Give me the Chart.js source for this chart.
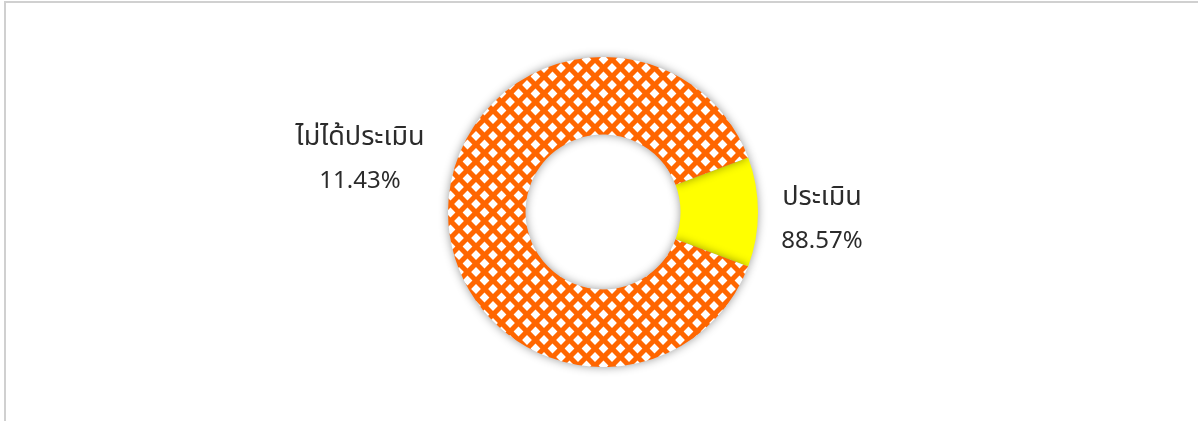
<!DOCTYPE html>
<html>
<head>
<meta charset="utf-8">
<script src="https://cdn.jsdelivr.net/npm/chart.js@4/dist/chart.umd.min.js"></script>
<style>
    html, body { margin: 0; padding: 0; background: #fff; }
    #marco {
        position: absolute; left: 4px; top: 1px; width: 1194px; height: 420px;
        border-top: 2px solid #d0d0d0; border-left: 2px solid #d0d0d0;
    }
    #grafico { position: absolute; left: 0; top: 0; }
</style>
</head>
<body>
<div id="marco"></div>
<canvas id="grafico" width="1198" height="421"></canvas>
<script>
// datos
const categorias = ['ประเมิน', 'ไม่ได้ประเมิน'];
const valores = [11.43, 88.57];
const textosPorcentaje = ['88.57%', '11.43%'];   // tal como aparecen en la imagen

const amarillo = '#FFFF00';
const naranja = '#FF6600';

// patron de rombos blancos sobre naranja
function crearPatron() {
    const t = 17;
    const c = document.createElement('canvas');
    c.width = t; c.height = t;
    const g = c.getContext('2d');
    g.fillStyle = naranja;
    g.fillRect(0, 0, t, t);
    g.fillStyle = '#fff';
    const centros = [[t / 2, t / 2], [0, 0], [t, 0], [0, t], [t, t]];
    const r = 4.9;
    centros.forEach(function (p) {
        g.beginPath();
        g.moveTo(p[0], p[1] - r);
        g.lineTo(p[0] + r, p[1]);
        g.lineTo(p[0], p[1] + r);
        g.lineTo(p[0] - r, p[1]);
        g.closePath();
        g.fill();
    });
    return document.getElementById('grafico').getContext('2d').createPattern(c, 'repeat');
}

// desplazamiento de cada etiqueta respecto al borde exterior
const distanciaEtiqueta = [64, 88];
const ajusteY = [7, -53];

const sombra = {
    id: 'sombra',
    beforeDatasetsDraw: function (chart) {
        const ctx = chart.ctx;
        ctx.save();
        ctx.shadowColor = 'rgba(0,0,0,0.4)';
        ctx.shadowBlur = 10;
        ctx.shadowOffsetX = 0;
        ctx.shadowOffsetY = 0;
    },
    afterDatasetsDraw: function (chart) {
        chart.ctx.restore();
    }
};

const etiquetas = {
    id: 'etiquetas',
    afterDraw: function (chart) {
        const ctx = chart.ctx;
        const meta = chart.getDatasetMeta(0);
        ctx.save();
        ctx.fillStyle = '#2b2b2b';
        ctx.textAlign = 'center';
        ctx.textBaseline = 'middle';
        meta.data.forEach(function (arco, i) {
            const p = arco.getProps(['x', 'y', 'startAngle', 'endAngle', 'outerRadius'], true);
            const medio = (p.startAngle + p.endAngle) / 2;
            const d = p.outerRadius + distanciaEtiqueta[i];
            const x = p.x + Math.cos(medio) * d;
            const y = p.y + Math.sin(medio) * d + ajusteY[i];
            ctx.font = '27px "Noto Sans Thai", Tahoma, sans-serif';
            ctx.fillText(categorias[i], x, y - 19);
            ctx.font = '24px "Noto Sans", sans-serif';
            ctx.fillText(textosPorcentaje[i], x, y + 22);
        });
        ctx.restore();
    }
};

const ctx = document.getElementById('grafico').getContext('2d');
const miGrafico = new Chart(ctx, {
    type: 'doughnut',
    data: {
        labels: categorias,
        datasets: [{
            data: valores,
            backgroundColor: [amarillo, crearPatron()],
            borderWidth: 0
        }]
    },
    options: {
        responsive: false,
        animation: false,
        cutout: '50%',
        rotation: 90 - valores[0] * 3.6 / 2,
        layout: { padding: { left: 8, right: 0, top: 57, bottom: 54 } },
        plugins: {
            legend: { display: false },
            tooltip: { enabled: false }
        }
    },
    plugins: [sombra, etiquetas]
});
</script>
</body>
</html>
